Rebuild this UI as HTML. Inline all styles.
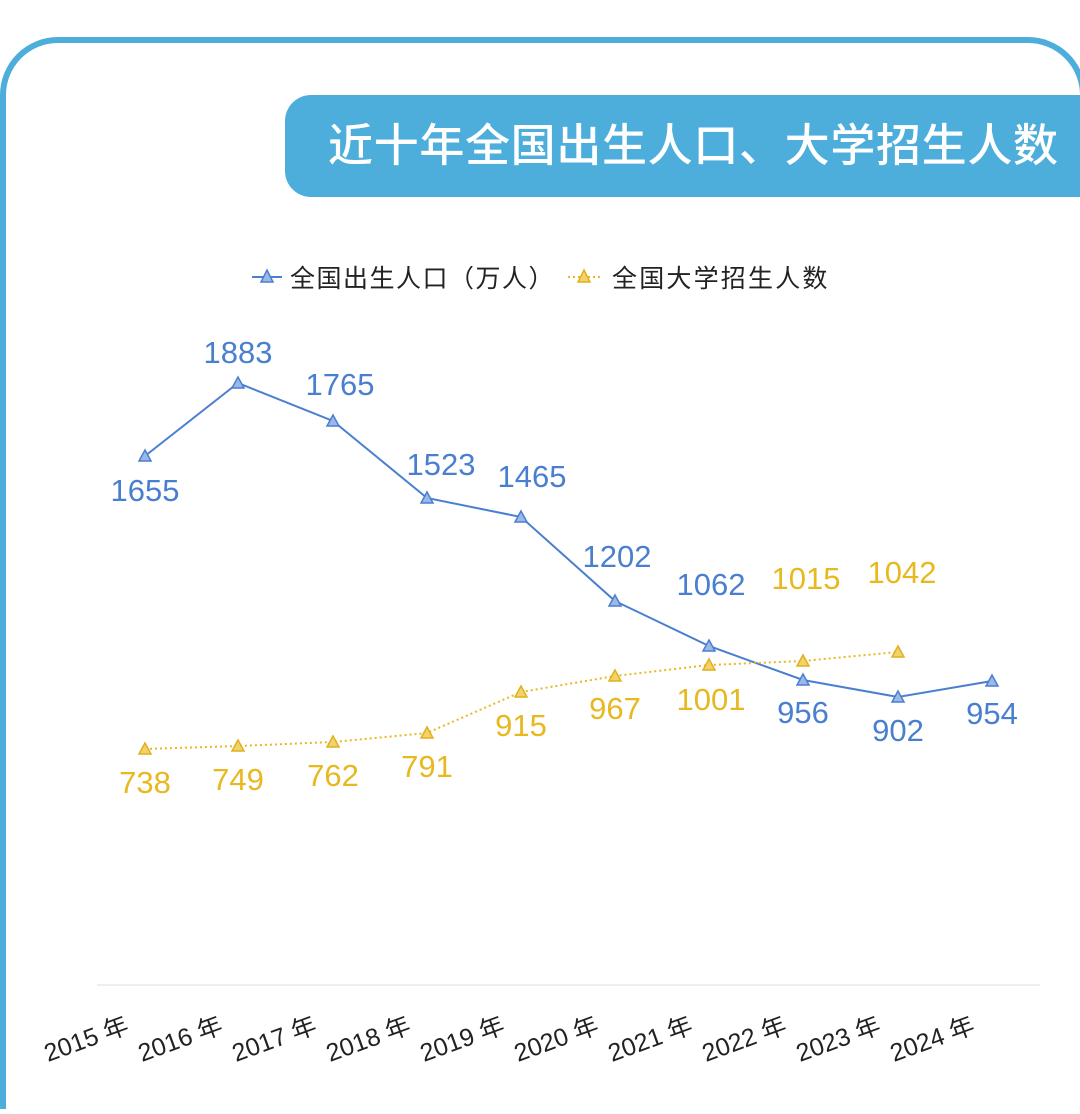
<!DOCTYPE html>
<html><head><meta charset="utf-8"><style>
body{margin:0;width:1080px;height:1109px;background:#fff;overflow:hidden;font-family:"Liberation Sans","Noto Sans CJK SC",sans-serif;}
</style></head><body>
<svg width="1080" height="1109" xmlns="http://www.w3.org/2000/svg" style="font-family:'Liberation Sans','Noto Sans CJK SC',sans-serif">
<rect x="3" y="40" width="1080" height="1120" rx="55" fill="none" stroke="#4DAEDB" stroke-width="6"/>
<rect x="285" y="95" width="840" height="102" rx="26" fill="#4DAEDB"/>
<text x="328" y="161" font-size="45" textLength="730" lengthAdjust="spacing" fill="#fff" font-family="Noto Sans CJK SC,sans-serif" font-weight="500">近十年全国出生人口、大学招生人数</text>
<line x1="252" y1="277" x2="282" y2="277" stroke="#4A7FD0" stroke-width="2"/>
<polygon points="267,270 273,282 261,282" fill="#9CB8E8" stroke="#4A7FD0" stroke-width="1.5"/>
<text x="290" y="287" font-size="25" letter-spacing="1.5" fill="#222" font-family="Noto Sans CJK SC,sans-serif">全国出生人口（万人）</text>
<line x1="568" y1="277" x2="600" y2="277" stroke="#E8B820" stroke-width="2" stroke-dasharray="2,3"/>
<polygon points="584,270 590,282 578,282" fill="#F2D36A" stroke="#E0B020" stroke-width="1.5"/>
<text x="612" y="287" font-size="25" letter-spacing="2.2" fill="#222" font-family="Noto Sans CJK SC,sans-serif">全国大学招生人数</text>
<line x1="97" y1="985" x2="1040" y2="985" stroke="#eee" stroke-width="2"/>
<polyline fill="none" stroke="#4A7FD0" stroke-width="2" points="145,456 238,383 333,421 427,498 521,517 615,601 709,646 803,680 898,697 992,681"/>
<polyline fill="none" stroke="#E8B820" stroke-width="2" stroke-dasharray="2,3" points="145,749 238,746 333,742 427,733 521,692 615,676 709,665 803,661 898,652"/>
<g fill="#9CB8E8" stroke="#4A7FD0" stroke-width="1.5">
<polygon points="145,450 151,461 139,461"/><polygon points="238,377 244,388 232,388"/><polygon points="333,415 339,426 327,426"/><polygon points="427,492 433,503 421,503"/><polygon points="521,511 527,522 515,522"/><polygon points="615,595 621,606 609,606"/><polygon points="709,640 715,651 703,651"/><polygon points="803,674 809,685 797,685"/><polygon points="898,691 904,702 892,702"/><polygon points="992,675 998,686 986,686"/>
</g>
<g fill="#F2D36A" stroke="#E0B020" stroke-width="1.5">
<polygon points="145,743 151,754 139,754"/><polygon points="238,740 244,751 232,751"/><polygon points="333,736 339,747 327,747"/><polygon points="427,727 433,738 421,738"/><polygon points="521,686 527,697 515,697"/><polygon points="615,670 621,681 609,681"/><polygon points="709,659 715,670 703,670"/><polygon points="803,655 809,666 797,666"/><polygon points="898,646 904,657 892,657"/>
</g>
<g font-size="31" fill="#4A7FD0" text-anchor="middle">
<text x="145" y="501">1655</text><text x="238" y="363">1883</text><text x="340" y="395">1765</text><text x="441" y="475">1523</text><text x="532" y="487">1465</text><text x="617" y="567">1202</text><text x="711" y="595">1062</text><text x="803" y="723">956</text><text x="898" y="741">902</text><text x="992" y="724">954</text>
</g>
<g font-size="31" fill="#E8B820" text-anchor="middle">
<text x="145" y="793">738</text><text x="238" y="790">749</text><text x="333" y="786">762</text><text x="427" y="777">791</text><text x="521" y="736">915</text><text x="615" y="719">967</text><text x="711" y="710">1001</text><text x="806" y="589">1015</text><text x="902" y="583">1042</text>
</g>
<g font-size="25" fill="#222">
<text transform="translate(48,1062) rotate(-20)">2015 年</text>
<text transform="translate(142,1062) rotate(-20)">2016 年</text>
<text transform="translate(236,1062) rotate(-20)">2017 年</text>
<text transform="translate(330,1062) rotate(-20)">2018 年</text>
<text transform="translate(424,1062) rotate(-20)">2019 年</text>
<text transform="translate(518,1062) rotate(-20)">2020 年</text>
<text transform="translate(612,1062) rotate(-20)">2021 年</text>
<text transform="translate(706,1062) rotate(-20)">2022 年</text>
<text transform="translate(800,1062) rotate(-20)">2023 年</text>
<text transform="translate(894,1062) rotate(-20)">2024 年</text>
</g>
</svg>
</body></html>
